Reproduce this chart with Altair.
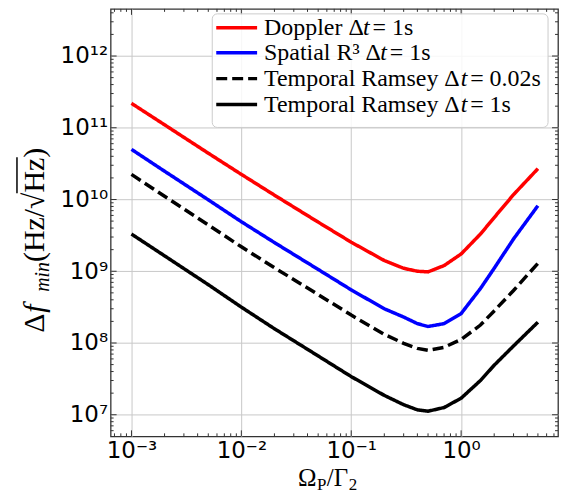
import altair as alt
import pandas as pd

# ---- data ----
x_vals = [0.001, 0.002, 0.005, 0.01, 0.02, 0.05, 0.1, 0.2, 0.3, 0.4, 0.5, 0.7, 1.0, 1.5, 2.0, 3.0, 5.0]
doppler = [2.19e11, 1.10e11, 4.42e10, 2.24e10, 1.15e10, 4.84e9, 2.54e9, 1.41e9, 1.10e9, 1.0e9,
           9.8e8, 1.20e9, 1.74e9, 3.3e9, 5.6e9, 1.17e10, 2.69e10]
spatial = [5.0e10, 2.48e10, 9.9e9, 4.9e9, 2.51e9, 1.06e9, 5.5e8, 3.0e8, 2.3e8, 1.86e8,
           1.7e8, 1.86e8, 2.57e8, 5.75e8, 1.10e9, 2.82e9, 8.2e9]
ramsey_002 = [2.24e10, 1.11e10, 4.42e9, 2.19e9, 1.12e9, 4.73e8, 2.45e8, 1.32e8, 9.9e7, 8.4e7,
              7.9e7, 8.7e7, 1.12e8, 1.78e8, 2.8e8, 5.4e8, 1.29e9]
ramsey_1 = [3.3e9, 1.64e9, 6.5e8, 3.16e8, 1.58e8, 6.6e7, 3.4e7, 1.86e7, 1.38e7, 1.17e7,
            1.12e7, 1.26e7, 1.7e7, 3.0e7, 4.9e7, 9.1e7, 1.95e8]

series_names = ["Doppler", "Spatial", "Ramsey002", "Ramsey1"]
series_colors = ["#ff0000", "#0000ff", "#000000", "#000000"]
series_dash = [[1, 0], [1, 0], [11, 5], [1, 0]]

x_major = [0.001, 0.01, 0.1, 1.0]
y_major = [1e7, 1e8, 1e9, 1e10, 1e11, 1e12]

x_domain = [6.46e-4, 7.62]
y_domain = [5.0e6, 4.54e12]

W, H = 449, 429

rows = []
for name, vals in zip(series_names, [doppler, spatial, ramsey_002, ramsey_1]):
    for xv, yv in zip(x_vals, vals):
        rows.append({"x": xv, "y": yv, "series": name})
df = pd.DataFrame(rows)

xscale = alt.Scale(type="log", domain=x_domain, nice=False)
yscale = alt.Scale(type="log", domain=y_domain, nice=False)

x_label_expr = ("datum.value < 0.005 ? '10⁻³' : datum.value < 0.05 ? '10⁻²' : "
                "datum.value < 0.5 ? '10⁻¹' : '10⁰'")
y_label_expr = ("datum.value < 50000000 ? '10⁷' : datum.value < 500000000 ? '10⁸' : "
                "datum.value < 5000000000 ? '10⁹' : datum.value < 50000000000 ? '10¹⁰' : "
                "datum.value < 500000000000 ? '10¹¹' : '10¹²'")

xaxis = alt.Axis(values=x_major, labelExpr=x_label_expr, grid=True, ticks=False,
                 domain=False, title=None, labelFont="DejaVu Sans", labelFontSize=23,
                 labelColor="black", labelPadding=3, gridColor="#c8c8c8", gridWidth=1)
yaxis = alt.Axis(values=y_major, labelExpr=y_label_expr, grid=True, ticks=False,
                 domain=False, title=None, labelFont="DejaVu Sans", labelFontSize=23,
                 labelColor="black", labelPadding=3, gridColor="#c8c8c8", gridWidth=1)

lines = alt.Chart(df).mark_line(strokeWidth=3.5, strokeCap="butt", clip=True).encode(
    x=alt.X("x:Q", scale=xscale, axis=xaxis),
    y=alt.Y("y:Q", scale=yscale, axis=yaxis),
    color=alt.Color("series:N", scale=alt.Scale(domain=series_names, range=series_colors), legend=None),
    strokeDash=alt.StrokeDash("series:N", scale=alt.Scale(domain=series_names, range=series_dash),
                              legend=None),
)

# minor / major inward ticks
def minor_between(lo, hi):
    out = []
    e = -4
    while 10 ** e < hi * 10:
        for m in range(2, 10):
            v = m * 10 ** e
            if lo < v < hi:
                out.append(v)
        e += 1
    return out

x_minor = minor_between(*x_domain)
y_minor = minor_between(*y_domain)

tick_layers = []
for vals, ln in [(x_major, 6), (x_minor, 3)]:
    d = pd.DataFrame({"x": vals})
    tick_layers.append(alt.Chart(d).mark_rule(color="#333", strokeWidth=1).encode(
        x=alt.X("x:Q", scale=xscale, axis=xaxis), y=alt.value(H), y2=alt.value(H - ln)))
    tick_layers.append(alt.Chart(d).mark_rule(color="#333", strokeWidth=1).encode(
        x=alt.X("x:Q", scale=xscale, axis=xaxis), y=alt.value(0), y2=alt.value(ln)))
for vals, ln in [(y_major, 6), (y_minor, 3)]:
    d = pd.DataFrame({"y": vals})
    tick_layers.append(alt.Chart(d).mark_rule(color="#333", strokeWidth=1).encode(
        y=alt.Y("y:Q", scale=yscale, axis=yaxis), x=alt.value(0), x2=alt.value(ln)))
    tick_layers.append(alt.Chart(d).mark_rule(color="#333", strokeWidth=1).encode(
        y=alt.Y("y:Q", scale=yscale, axis=yaxis), x=alt.value(W), x2=alt.value(W - ln)))

one = pd.DataFrame({"a": [0]})
SERIF = "Liberation Serif"
NB = "\u00a0"

def txt(t, x, y, size, angle=0, italic=False, baseline="alphabetic", align="left"):
    kw = dict(text=t, font=SERIF, fontSize=size, color="black", align=align, baseline=baseline)
    if angle:
        kw["angle"] = angle
    if italic:
        kw["fontStyle"] = "italic"
    return alt.Chart(one).mark_text(**kw).encode(x=alt.value(x), y=alt.value(y))

# y title pieces (rotated)
ytitle = [
    txt("Δ", -67, 325, 30, angle=270),
    txt("f", -67, 305, 30, angle=270, italic=True),
    txt("min", -62, 284, 20, angle=270, italic=True),
    txt("(Hz/√Hz)", -67, 254, 30, angle=270),
    alt.Chart(one).mark_rule(color="black", strokeWidth=1.5).encode(
        x=alt.value(-94), x2=alt.value(-94), y=alt.value(149), y2=alt.value(185)),
]
# x title pieces
xtitle = [
    txt("Ω", 188, 479, 25),
    txt("P", 207, 483, 17),
    txt("/Γ", 217, 479, 25),
    txt("2", 239, 483, 17),
]

# legend
legend_box = alt.Chart(one).mark_rect(fill="white", fillOpacity=0.85, stroke="#cccccc",
                                      strokeWidth=1, cornerRadius=5).encode(
    x=alt.value(102), x2=alt.value(439), y=alt.value(5), y2=alt.value(119))
legend_rows = [
    ("Doppler Δ", NB + "=" + NB + "1s", "#ff0000", [1, 0], 19, 99.3),
    ("Spatial R³ Δ", NB + "=" + NB + "1s", "#0000ff", [1, 0], 44, 116.6),
    ("Temporal Ramsey Δ", NB + "=" + NB + "0.02s", "#000000", [11, 5], 70, 197.3),
    ("Temporal Ramsey Δ", NB + "=" + NB + "1s", "#000000", [1, 0], 96, 197.3),
]
legend_layers = [legend_box]
for pre, post, col, dash, ry, w in legend_rows:
    legend_layers.append(alt.Chart(one).mark_rule(color=col, strokeWidth=3.5, strokeDash=dash,
                                                  strokeCap="butt").encode(
        x=alt.value(106), x2=alt.value(147), y=alt.value(ry), y2=alt.value(ry)))
    legend_layers.append(txt(pre, 154, ry, 24, baseline="middle"))
    legend_layers.append(txt("t", 154 + w, ry, 24, italic=True, baseline="middle"))
    legend_layers.append(txt(post, 154 + w + 9.5, ry, 24, baseline="middle"))

chart = alt.layer(lines, *tick_layers, *ytitle, *xtitle, *legend_layers).properties(
    width=W, height=H,
    autosize=alt.AutoSizeParams(type="none"),
    padding={"left": 103, "top": 0, "right": 5, "bottom": 60},
    background="white",
).configure_view(stroke="#333333", strokeWidth=1.3)

chart.save("out.html", embed_options={"renderer": "svg", "actions": False})
